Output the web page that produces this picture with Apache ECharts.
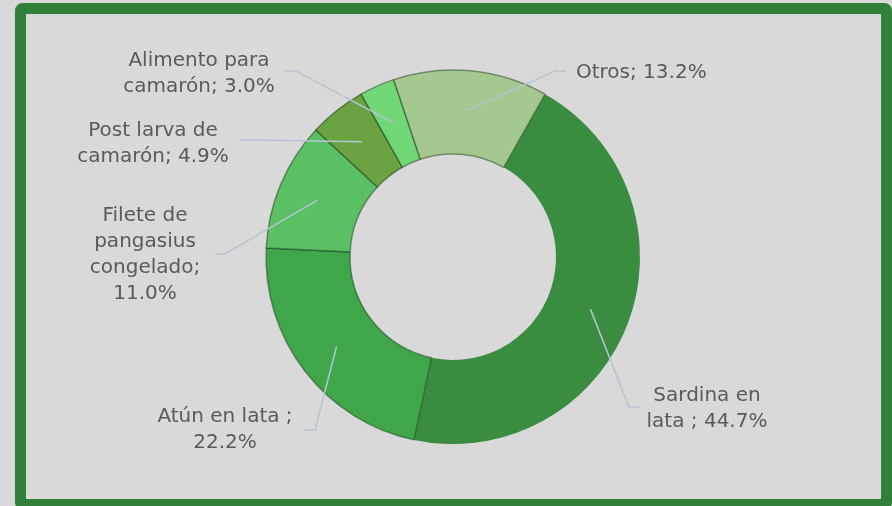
<!DOCTYPE html>
<html>
<head>
<meta charset="utf-8">
<script src="https://cdn.jsdelivr.net/npm/echarts@6/dist/echarts.min.js"></script>
<style>
  html, body { margin: 0; padding: 0; background: #d9d9d9; }
  #chart { width: 892px; height: 506px; }
</style>
</head>
<body>
<div id="chart"></div>
<script>
// Import shares by product (percent of total)
const categories = [
  'Sardina en lata',
  'Atún en lata',
  'Filete de pangasius congelado',
  'Post larva de camarón',
  'Alimento para camarón',
  'Otros'
];
const shares = [44.7, 22.2, 11.0, 4.9, 3.0, 13.2];

// Label text, with the line breaks used in the chart; {v} is the share
const labelTemplates = [
  'Sardina en\nlata ; {v}',
  'Atún en lata ;\n{v}',
  'Filete de\npangasius\ncongelado;\n{v}',
  'Post larva de\ncamarón; {v}',
  'Alimento para\ncamarón; {v}',
  'Otros; {v}'
];

const sliceColors = ['#3a8c40', '#3fa74a', '#5bbf63', '#6ba342', '#72d877', '#a4c890'];

// Label placement: text centre, leader-line end next to the text, elbow x
const labelPlacement = [
  { x: 707, y: 409, align: 'center', endX: 640, endY: 407, elbowX: 629 },
  { x: 225, y: 430, align: 'center', endX: 304, endY: 430, elbowX: 315 },
  { x: 145, y: 255, align: 'center', endX: 215, endY: 254, elbowX: 225 },
  { x: 153, y: 144, align: 'center', endX: 240, endY: 140, elbowX: 252 },
  { x: 199, y: 74,  align: 'center', endX: 284, endY: 71,  elbowX: 296 },
  { x: 576, y: 73,  align: 'left',   endX: 566, endY: 71,  elbowX: 555 }
];

const CX = 453, CY = 257;

const data = categories.map((name, i) => ({
  name: name,
  value: shares[i],
  itemStyle: {
    color: sliceColors[i],
    borderColor: i === 0 ? sliceColors[0] : 'rgba(20,50,20,0.45)',
    borderWidth: i === 0 ? 0 : 1.5
  }
}));

const labelData = categories.map((name, i) => ({ name: name, value: shares[i] }));

const chart = echarts.init(document.getElementById('chart'), null, { renderer: 'canvas' });

chart.setOption({
  backgroundColor: '#d9d9d9',
  animation: false,
  graphic: [{
    type: 'rect',
    shape: { x: 20.5, y: 8.5, width: 866, height: 496, r: 2 },
    style: { fill: null, stroke: '#31803a', lineWidth: 11 },
    silent: true
  }],
  series: [
    {
      // the ring itself
      type: 'pie',
      z: 2,
      center: [CX, CY],
      radius: [103, 187],
      startAngle: 60.5,
      clockwise: true,
      silent: true,
      label: { show: false },
      labelLine: { show: false },
      data: data
    },
    {
      // invisible inner pie carrying labels so leader lines start mid-ring
      type: 'pie',
      z: 5,
      center: [CX, CY],
      radius: [0, 147],
      startAngle: 60.5,
      clockwise: true,
      silent: true,
      itemStyle: { color: 'rgba(0,0,0,0)', borderWidth: 0 },
      label: {
        show: true,
        position: 'outside',
        fontFamily: 'DejaVu Sans',
        fontSize: 20,
        lineHeight: 26,
        color: '#5a5a5a',
        formatter: p => labelTemplates[p.dataIndex].replace('{v}', p.value.toFixed(1) + '%')
      },
      labelLine: {
        show: true,
        length: 10,
        length2: 10,
        lineStyle: { color: '#b7c4d6', width: 1.5 }
      },
      labelLayout: function (params) {
        const lp = labelPlacement[params.dataIndex];
        const start = params.labelLinePoints ? params.labelLinePoints[0] : [lp.elbowX, lp.endY];
        return {
          x: lp.x,
          y: lp.y,
          align: lp.align,
          verticalAlign: 'middle',
          labelLinePoints: [start, [lp.elbowX, lp.endY], [lp.endX, lp.endY]]
        };
      },
      data: labelData
    }
  ]
});
</script>
</body>
</html>
